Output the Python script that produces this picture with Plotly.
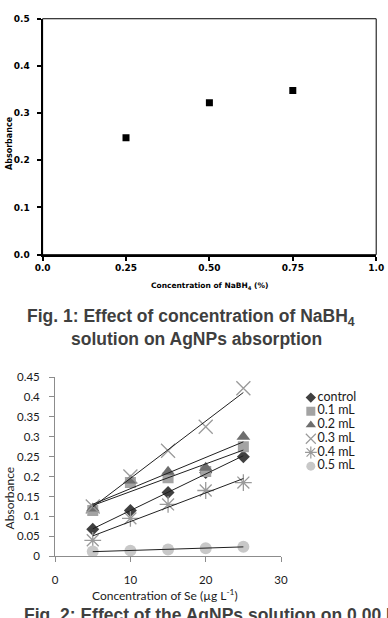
import numpy as np
import plotly.graph_objects as go

W, H = 388, 618

# ---------------- Fig. 1 data ----------------
nabh4_conc = [0.25, 0.50, 0.75]
nabh4_abs = [0.248, 0.322, 0.348]
fig1_xticks = [0.0, 0.25, 0.50, 0.75, 1.0]
fig1_xticktext = ["0.0", "0.25", "0.50", "0.75", "1.0"]
fig1_yticks = [0.0, 0.1, 0.2, 0.3, 0.4, 0.5]

# ---------------- Fig. 2 data ----------------
se_conc = [5, 10, 15, 20, 25]
series_names = ["control", "0.1 mL", "0.2 mL", "0.3 mL", "0.4 mL", "0.5 mL"]
abs_control = [0.068, 0.115, 0.160, 0.210, 0.250]
abs_01 = [0.115, 0.185, 0.197, 0.213, 0.275]
abs_02 = [0.120, 0.190, 0.212, 0.222, 0.300]
abs_03 = [0.125, 0.200, 0.265, 0.325, 0.422]
abs_04 = [0.040, 0.095, 0.130, 0.165, 0.185]
abs_05 = [0.012, 0.014, 0.017, 0.020, 0.024]
fig2_xticks = [0, 10, 20, 30]
fig2_yticks = [0, 0.05, 0.1, 0.15, 0.2, 0.25, 0.3, 0.35, 0.4, 0.45]

series_values = [abs_control, abs_01, abs_02, abs_03, abs_04, abs_05]
symbols = ["diamond", "square", "triangle-up", "x-thin-open", "asterisk-open", "circle"]
colors = ["#404040", "#a3a3a3", "#6e6e6e", "#9a9a9a", "#9a9a9a", "#c8c8c8"]
sizes = [10, 11, 12, 14, 14, 12]
leg_sizes = [8, 9, 9, 10, 10, 9]


def px_x(p):
    return p / W


def px_y(p):
    return 1 - p / H


fig = go.Figure()

# Fig. 1 scatter
fig.add_trace(go.Scatter(
    x=nabh4_conc, y=nabh4_abs, mode="markers",
    marker=dict(symbol="square", size=7, color="black"),
    xaxis="x", yaxis="y", showlegend=False, hoverinfo="skip"))

# Fig. 2 markers
for name, vals, sym, col, sz in zip(series_names, series_values, symbols, colors, sizes):
    thin = sym.endswith("open")
    fig.add_trace(go.Scatter(
        x=se_conc, y=vals, mode="markers", name=name,
        marker=dict(symbol=sym, size=sz, color=col,
                    line=dict(color=col, width=1.3 if thin else 0)),
        xaxis="x2", yaxis="y2", showlegend=False, hoverinfo="skip"))

# Fig. 2 linear trendlines
for vals in series_values:
    slope, icpt = np.polyfit(se_conc, vals, 1)
    xs = [min(se_conc), max(se_conc)]
    fig.add_trace(go.Scatter(
        x=xs, y=[slope * v + icpt for v in xs], mode="lines",
        line=dict(color="#202020", width=1),
        xaxis="x2", yaxis="y2", showlegend=False, hoverinfo="skip"))

# Custom legend for Fig. 2 (rows indexed by series)
idx = list(range(len(series_names)))
for i, (sym, col, sz) in enumerate(zip(symbols, colors, leg_sizes)):
    thin = sym.endswith("open")
    fig.add_trace(go.Scatter(
        x=[0], y=[i], mode="markers",
        marker=dict(symbol=sym, size=sz, color=col,
                    line=dict(color=col, width=1.2 if thin else 0)),
        xaxis="x3", yaxis="y3", showlegend=False, hoverinfo="skip"))
fig.add_trace(go.Scatter(
    x=[1.4] * len(idx), y=idx, mode="text", text=series_names,
    textposition="middle right",
    textfont=dict(family="Lato", size=12.5, color="#1a1a1a"),
    xaxis="x3", yaxis="y3", showlegend=False, hoverinfo="skip"))

f1_tick_font = dict(family="DejaVu Sans", size=9, color="black", weight="bold")
f2_tick_font = dict(family="Lato", size=11.5, color="#1a1a1a")

fig.update_layout(
    width=W, height=H, margin=dict(l=0, r=0, t=0, b=0),
    paper_bgcolor="white", plot_bgcolor="white",
    xaxis=dict(domain=[px_x(36), px_x(383)], range=[0, 1.0],
               tickvals=fig1_xticks, ticktext=fig1_xticktext,
               showline=True, linecolor="black", linewidth=2,
               ticks="outside", ticklen=4, tickwidth=2, tickcolor="black",
               showgrid=False, zeroline=False, tickfont=f1_tick_font,
               anchor="y", fixedrange=True),
    yaxis=dict(domain=[px_y(253), px_y(12)], range=[0, 0.5],
               tickvals=fig1_yticks, tickformat=".1f",
               showline=True, linecolor="black", linewidth=2,
               ticks="outside", ticklen=4, tickwidth=2, tickcolor="black",
               showgrid=False, zeroline=False, tickfont=f1_tick_font,
               ticklabelstandoff=5,
               anchor="x", fixedrange=True),
    xaxis2=dict(domain=[px_x(49), px_x(284)], range=[0, 30],
                tickvals=fig2_xticks,
                showline=True, linecolor="#8c8c8c", linewidth=1,
                ticks="outside", ticklen=5, tickwidth=1, tickcolor="#8c8c8c",
                showgrid=False, zeroline=False, tickfont=f2_tick_font,
                ticklabelstandoff=8,
                anchor="y2", fixedrange=True),
    yaxis2=dict(domain=[px_y(561), px_y(378)], range=[0, 0.45],
                tickvals=fig2_yticks, ticktext=[f"{v:g}" for v in fig2_yticks],
                showline=True, linecolor="#8c8c8c", linewidth=1,
                ticks="outside", ticklen=5, tickwidth=1, tickcolor="#8c8c8c",
                showgrid=False, zeroline=False, tickfont=f2_tick_font,
                ticklabelstandoff=7,
                anchor="x2", fixedrange=True),
    xaxis3=dict(domain=[px_x(309), px_x(388)], range=[-1.2, 14.6],
                visible=False, anchor="y3", fixedrange=True),
    yaxis3=dict(domain=[px_y(476), px_y(392)], range=[5.5, -0.5],
                visible=False, anchor="x3", fixedrange=True),
)

# Fig. 1 frame (thin top/right)
fig.add_shape(type="rect", xref="x domain", yref="y domain",
              x0=0, x1=1, y0=0, y1=1, line=dict(color="black", width=1),
              layer="below")

ann = []
# Fig. 1 axis titles
ann.append(dict(x=px_x(210), y=px_y(285), text="Concentration of NaBH<sub>4</sub> (%)",
                font=dict(family="DejaVu Sans", size=7.5, color="black", weight="bold")))
ann.append(dict(x=px_x(1), y=px_y(139), text="Absorbance", textangle=-90,
                font=dict(family="DejaVu Sans", size=8, color="black", weight="bold")))
# Fig. 1 caption
cap_font = dict(family="Liberation Sans", size=17.5, color="#3f3f3f", weight="bold")
ann.append(dict(x=px_x(190), y=px_y(317),
                text="Fig. 1: Effect of concentration of NaBH<sub>4</sub>", font=cap_font))
ann.append(dict(x=px_x(196), y=px_y(339),
                text="solution on AgNPs absorption", font=cap_font))
# Fig. 2 axis titles
ann.append(dict(x=px_x(163), y=px_y(601), text="Concentration of Se (µg L<sup>-1</sup>)",
                font=dict(family="Lato", size=12, color="#1a1a1a")))
ann.append(dict(x=px_x(2), y=px_y(501), text="Absorbance", textangle=-90,
                font=dict(family="Lato", size=12, color="#1a1a1a")))
# Fig. 2 caption (cut at bottom edge, as in the reference)
ann.append(dict(x=px_x(15), y=px_y(621), xanchor="left",
                text="Fig. 2: Effect of the AgNPs solution on 0.00 HCl", font=cap_font))

for a in ann:
    a.setdefault("xanchor", "center")
    a.setdefault("yanchor", "middle")
    fig.add_annotation(xref="paper", yref="paper", showarrow=False, **a)

fig.write_html("out.html")
